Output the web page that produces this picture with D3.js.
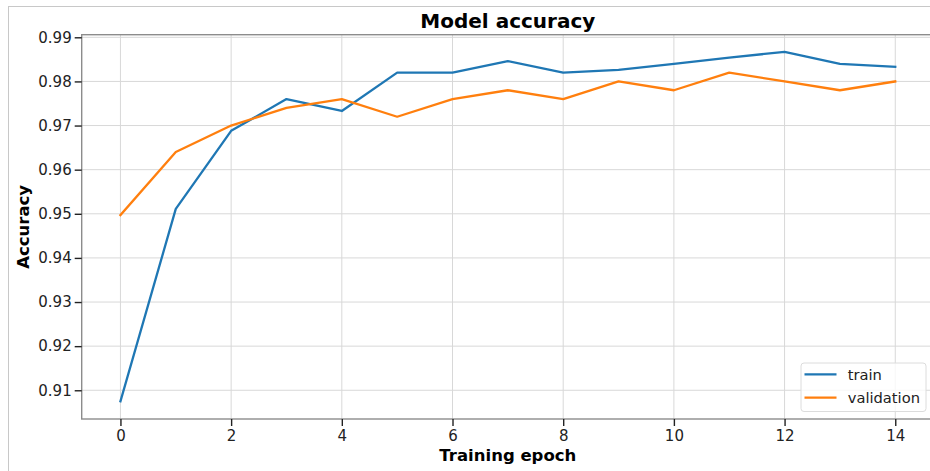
<!DOCTYPE html>
<html><head><meta charset="utf-8">
<script src="https://cdn.jsdelivr.net/npm/d3@7"></script>
<style>body{margin:0;background:#fff;} svg{display:block;font-family:"DejaVu Sans",sans-serif;}</style>
</head><body><svg id="c" width="930" height="471"></svg>
<script>
const epochs = [0,1,2,3,4,5,6,7,8,9,10,11,12,13,14];
const train = [0.9075,0.9511,0.9688,0.9760,0.9733,0.9820,0.9820,0.9846,0.9820,0.9826,0.9840,0.9854,0.9867,0.9840,0.9833];
const validation = [0.9497,0.9640,0.9700,0.9740,0.9760,0.9720,0.9760,0.9780,0.9760,0.9800,0.9780,0.9820,0.9800,0.9780,0.9800];
const xTicks = [0,2,4,6,8,10,12,14];
const yTicks = [0.91,0.92,0.93,0.94,0.95,0.96,0.97,0.98,0.99];
const seriesNames = ["train","validation"];
const colors = ["#1f77b4","#ff7f0e"];

const svg = d3.select("#c");
// outer frame
svg.append("rect").attr("x",8.5).attr("y",6.5).attr("width",940).attr("height",480)
  .attr("fill","none").attr("stroke","#c8c8c8").attr("stroke-width",1);

const L=81.7, R=934, T=34.7, B=419;
const x = d3.scaleLinear().domain([-0.7,14.7]).range([L,R]);
const y = d3.scaleLinear().domain([0.90349,0.99059]).range([B,T]);

const g = svg.append("g");
// grid
g.selectAll(".gx").data(xTicks).join("line").attr("x1",d=>x(d)).attr("x2",d=>x(d)).attr("y1",T).attr("y2",B)
  .attr("stroke","#d8d8d8").attr("stroke-width",1);
g.selectAll(".gy").data(yTicks).join("line").attr("y1",d=>y(d)).attr("y2",d=>y(d)).attr("x1",L).attr("x2",R)
  .attr("stroke","#d8d8d8").attr("stroke-width",1);

// lines
const line = d3.line().x((d,i)=>x(epochs[i])).y(d=>y(d));
[train,validation].forEach((s,k)=>{
  g.append("path").datum(s).attr("d",line).attr("fill","none").attr("stroke",colors[k]).attr("stroke-width",2.3)
   .attr("stroke-linejoin","round").attr("stroke-linecap","square");
});

// spines
g.append("rect").attr("x",L).attr("y",T).attr("width",R-L).attr("height",B-T).attr("fill","none")
  .attr("stroke","#8c8c8c").attr("stroke-width",1.4);

// axes
const xAxis = d3.axisBottom(x).tickValues(xTicks).tickSize(7).tickPadding(4.5).tickFormat(d3.format("d"));
const yAxis = d3.axisLeft(y).tickValues(yTicks).tickSize(7).tickPadding(3).tickFormat(d3.format(".2f"));
const gx = svg.append("g").attr("transform",`translate(0,${B})`).call(xAxis);
const gy = svg.append("g").attr("transform",`translate(${L},0)`).call(yAxis);
[gx,gy].forEach(a=>{
  a.select(".domain").remove();
  a.selectAll(".tick line").attr("stroke","#222").attr("stroke-width",1.4);
  a.selectAll(".tick text").attr("fill","#222").style("font-size","15px").style("font-family","DejaVu Sans");
});

// title and labels
svg.append("text").attr("x",(L+R)/2).attr("y",28).attr("text-anchor","middle")
  .style("font-size","20px").style("font-weight","bold").attr("fill","#000").text("Model accuracy");
svg.append("text").attr("x",(L+R)/2).attr("y",461).attr("text-anchor","middle")
  .style("font-size","16.5px").style("font-weight","bold").attr("fill","#000").text("Training epoch");
svg.append("text").attr("transform",`translate(28.5,${(T+B)/2}) rotate(-90)`).attr("text-anchor","middle")
  .style("font-size","16.5px").style("font-weight","bold").attr("fill","#000").text("Accuracy");

// legend
const lg = svg.append("g");
lg.append("rect").attr("x",801).attr("y",363).attr("width",125).attr("height",48.5).attr("rx",3)
  .attr("fill","#fff").attr("fill-opacity",0.8).attr("stroke","#dcdcdc");
seriesNames.forEach((n,i)=>{
  const yy = 374.3 + i*23.3;
  lg.append("line").attr("x1",804.5).attr("x2",836.5).attr("y1",yy).attr("y2",yy).attr("stroke",colors[i]).attr("stroke-width",2.3);
  lg.append("text").attr("x",847.7).attr("y",yy+5.3).style("font-size","14.7px").attr("fill","#222").text(n);
});
</script></body></html>
